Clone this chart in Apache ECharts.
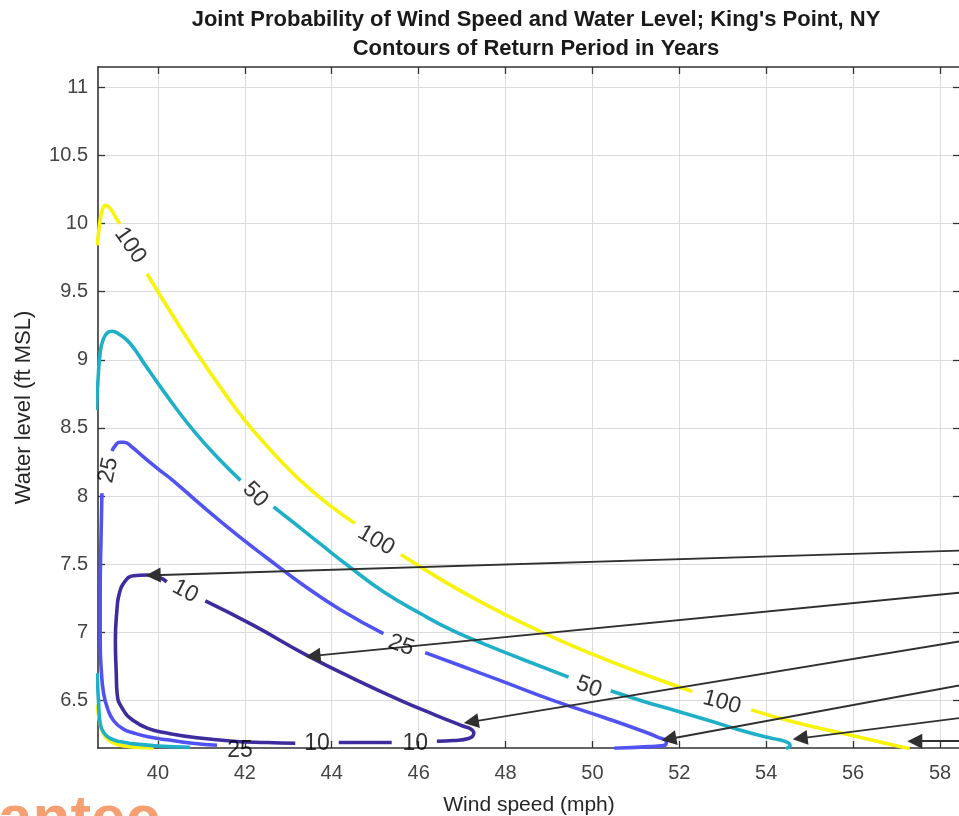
<!DOCTYPE html>
<html><head><meta charset="utf-8">
<script src="https://cdn.jsdelivr.net/npm/echarts@6/dist/echarts.min.js"></script>
<style>html,body{margin:0;padding:0;background:#fff}#c{width:959px;height:816px}</style>
</head><body><div id="c"></div>
<script>
// Axis ticks
const xTicks = [40, 42, 44, 46, 48, 50, 52, 54, 56, 58];
const yTicks = [6.5, 7, 7.5, 8, 8.5, 9, 9.5, 10, 10.5, 11];

// Contour segments (wind speed mph, water level ft MSL); gaps are where labels sit
const contour100 = [
  [[38.6,9.84],[38.65,9.98],[38.7,10.08],[38.75,10.125],[38.8,10.135],[38.86,10.125],[38.94,10.095],[39.02,10.05],[39.12,10.0]],
  [[39.75,9.63],[40.0,9.50],[40.5,9.245],[41.0,9.0],[41.5,8.77],[42.0,8.555],[42.5,8.37],[43.0,8.2],[43.5,8.05],[44.0,7.92],[44.53,7.80]],
  [[45.59,7.57],[46.5,7.39],[47.5,7.21],[48.5,7.05],[49.5,6.905],[50.5,6.775],[51.5,6.655],[52.3,6.565]],
  [[53.65,6.43],[54.7,6.335],[55.8,6.255],[56.6,6.195],[57.3,6.145]],
  [[38.6,6.47],[38.66,6.34],[38.74,6.26],[38.86,6.21],[39.06,6.175],[39.4,6.158],[39.9,6.15]]
];
const contour50 = [
  [[38.58,8.63],[38.62,8.85],[38.67,9.05],[38.74,9.15],[38.84,9.20],[38.94,9.21],[39.1,9.19],[39.36,9.12],[39.7,8.965],[40.05,8.805],[40.45,8.63],[40.82,8.48],[41.35,8.29],[41.9,8.115]],
  [[42.66,7.92],[43.28,7.765],[43.73,7.65],[44.43,7.475],[45.2,7.295],[46.08,7.13],[46.8,7.01],[47.5,6.915],[48.4,6.8],[49.45,6.67]],
  [[50.42,6.57],[51.2,6.49],[51.96,6.42],[52.7,6.35],[53.41,6.28],[54.0,6.23],[54.3,6.21],[54.5,6.19],[54.55,6.17],[54.45,6.145]],
  [[38.6,6.70],[38.63,6.5],[38.67,6.33],[38.76,6.26],[38.9,6.22],[39.15,6.195],[39.44,6.18],[40.0,6.165],[40.74,6.155]]
];
const contour25 = [
  [[38.94,8.33],[39.03,8.375],[39.12,8.395],[39.22,8.395],[39.4,8.36],[39.62,8.30],[40.0,8.20],[40.36,8.11],[40.97,7.94],[41.8,7.72],[42.51,7.545],[43.35,7.345],[44.2,7.165],[45.19,6.99]],
  [[46.15,6.85],[47.0,6.75],[47.84,6.65],[49.09,6.50],[50.3,6.37],[51.1,6.28],[51.5,6.23],[51.7,6.195],[51.68,6.172],[51.3,6.16],[50.5,6.148]],
  [[38.71,8.02],[38.69,7.7],[38.67,7.3],[38.67,6.94],[38.7,6.7],[38.75,6.55],[38.84,6.44],[38.98,6.35],[39.2,6.29],[39.44,6.26],[39.8,6.23],[40.21,6.21],[40.8,6.185],[41.36,6.17]]
];
const contour10 = [
  [[40.2,7.37],[40.05,7.40],[39.75,7.42],[39.44,7.415],[39.21,7.36],[39.1,7.27],[39.06,7.18],[39.02,6.94],[39.04,6.7],[39.06,6.55],[39.2,6.43],[39.44,6.35],[39.8,6.29],[40.2,6.26],[40.9,6.225],[41.73,6.2],[42.5,6.19],[43.16,6.185]],
  [[44.16,6.19],[45.38,6.19]],
  [[46.42,6.20],[46.8,6.205],[47.15,6.22],[47.27,6.26],[47.2,6.29],[47.03,6.31],[46.4,6.39],[45.58,6.50],[44.5,6.66],[43.43,6.83],[42.2,7.05],[41.09,7.23]]
];

// Contour labels: [x, y, text, rotation]
const contourLabels = [
  [39.36, 9.84, '100', -55],
  [45.02, 7.674, '100', -30],
  [52.98, 6.485, '100', -15],
  [42.24, 8.01, '50', -45],
  [49.92, 6.598, '50', -20],
  [38.86, 8.19, '25', 78],
  [45.60, 6.904, '25', -20],
  [41.89, 6.133, '25', 0],
  [40.63, 7.30, '10', -28],
  [43.66, 6.18, '10', 0],
  [45.92, 6.18, '10', 0]
];

// Annotation arrows: [fromX, fromY, toX, toY] (to = centre of arrow head)
const arrows = [
  [58.6, 7.601, 39.89, 7.418],
  [58.6, 7.295, 43.57, 6.826],
  [58.6, 6.941, 47.21, 6.342],
  [58.6, 6.618, 51.76, 6.216],
  [58.6, 6.376, 54.78, 6.221],
  [58.6, 6.202, 57.42, 6.20]
];

const contourDefs = [
  {segs: contour100, color: '#F8F30A'},
  {segs: contour50, color: '#1FB0C8'},
  {segs: contour25, color: '#5052F2'},
  {segs: contour10, color: '#3C2C9E'}
];

const series = [];
contourDefs.forEach(d => {
  d.segs.forEach(seg => {
    series.push({
      type: 'line', data: seg, showSymbol: false, smooth: 0.5, silent: true,
      lineStyle: {color: d.color, width: 3.6}, z: 2, animation: false
    });
  });
});
series.push({
  type: 'lines', coordinateSystem: 'cartesian2d', silent: true, z: 5, animation: false,
  symbol: ['none', 'triangle'], symbolSize: [12, 15],
  lineStyle: {color: '#303030', width: 1.9, opacity: 1, curveness: 0},
  data: arrows.map(a => ({coords: [[a[0], a[1]], [a[2], a[3]]]}))
});
series.push({
  type: 'scatter', symbolSize: 0, silent: true, z: 6, clip: false, animation: false,
  data: contourLabels.map(l => ({
    value: [l[0], l[1]],
    label: {show: true, position: 'inside', formatter: l[2], rotate: l[3],
      color: '#000', textBorderWidth: 0, fontSize: 23, fontFamily: 'Liberation Sans'}
  }))
});

const tickStyle = {color: '#333', width: 1.3};
const chart = echarts.init(document.getElementById('c'), null, {renderer: 'canvas'});
chart.setOption({
  backgroundColor: '#fff',
  animation: false,
  title: {
    text: "Joint Probability of Wind Speed and Water Level; King's Point, NY\nContours of Return Period in Years",
    left: 531, top: 0, textAlign: 'center',
    textStyle: {fontFamily: 'Liberation Sans', fontWeight: 'bold', fontSize: 22, color: '#1a1a1a', lineHeight: 29}
  },
  grid: {left: 98, right: -1, top: 67, bottom: 68, containLabel: false, outerBoundsMode: 'none', show: false},
  xAxis: [{
    type: 'value', min: 38.62, max: 58.46, position: 'bottom',
    name: 'Wind speed (mph)', nameLocation: 'middle', nameGap: 47,
    nameTextStyle: {fontFamily: 'Liberation Sans', fontSize: 21, color: '#262626'},
    axisLine: {show: true, onZero: false, lineStyle: {color: '#333', width: 1.6}},
    axisTick: {show: true, inside: true, length: 7, customValues: xTicks, lineStyle: tickStyle},
    axisLabel: {show: true, customValues: xTicks, fontFamily: 'Liberation Sans', fontSize: 20, color: '#444', margin: 15},
    splitLine: {show: true, lineStyle: {color: '#dcdcdc', width: 1}}
  }, {
    type: 'value', min: 38.62, max: 58.46, position: 'top',
    axisLine: {show: true, onZero: false, lineStyle: {color: '#333', width: 1.6}},
    axisTick: {show: true, inside: true, length: 7, customValues: xTicks, lineStyle: tickStyle},
    axisLabel: {show: false}, splitLine: {show: false}
  }],
  yAxis: [{
    type: 'value', min: 6.15, max: 11.15, position: 'left',
    name: 'Water level (ft MSL)', nameLocation: 'middle', nameGap: 63,
    nameTextStyle: {fontFamily: 'Liberation Sans', fontSize: 22, color: '#262626'},
    axisLine: {show: true, onZero: false, lineStyle: {color: '#333', width: 1.6}},
    axisTick: {show: true, inside: true, length: 7, customValues: yTicks, lineStyle: tickStyle},
    axisLabel: {show: true, customValues: yTicks, fontFamily: 'Liberation Sans', fontSize: 20, color: '#444', margin: 10},
    splitLine: {show: true, lineStyle: {color: '#dcdcdc', width: 1}}
  }, {
    type: 'value', min: 6.15, max: 11.15, position: 'right',
    axisLine: {show: true, onZero: false, lineStyle: {color: '#333', width: 1.6}},
    axisTick: {show: true, inside: true, length: 7, customValues: yTicks, lineStyle: tickStyle},
    axisLabel: {show: false}, splitLine: {show: false}
  }],
  graphic: [{
    type: 'text', x: 160, y: 821, silent: true,
    style: {text: 'Stantec', font: 'bold 62px "Liberation Sans"', fill: '#F5A073', align: 'right', verticalAlign: 'middle'}
  }],
  series: series
});
</script>
</body></html>
